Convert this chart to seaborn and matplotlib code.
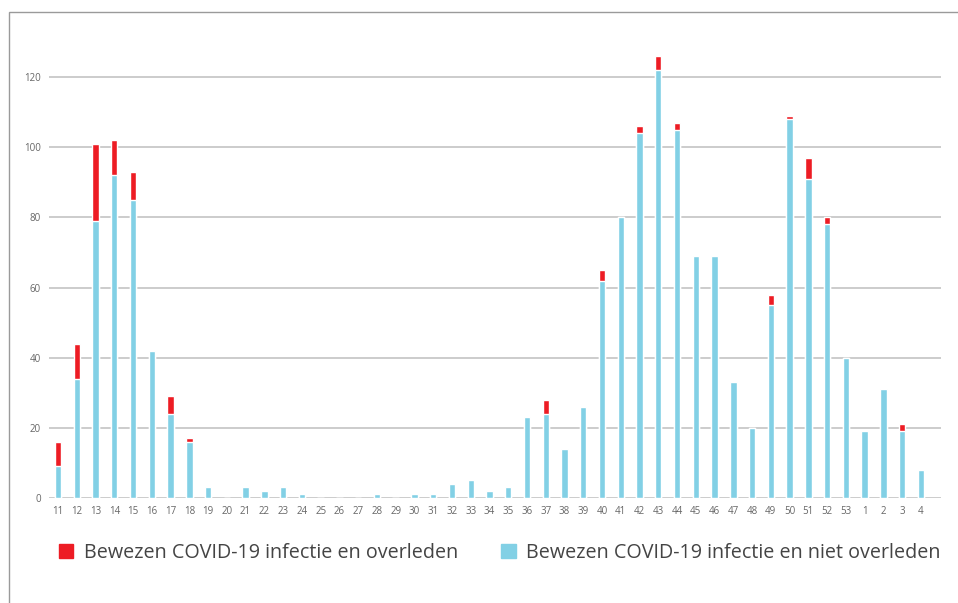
import matplotlib
matplotlib.use("Agg")
import matplotlib.pyplot as plt
import matplotlib.patches as mpatches
import seaborn as sns
import pandas as pd

# weeks 11-53 (2020) then 1-4 (2021)
weeks = [str(w) for w in range(11, 54)] + ["1", "2", "3", "4"]

# infected, not deceased
niet_overleden = [9, 34, 79, 92, 85, 42, 24, 16, 3, 0,
                  3, 2, 3, 1, 0, 0, 0, 1, 0, 1,
                  1, 4, 5, 2, 3, 23, 24, 14, 26, 62,
                  80, 104, 122, 105, 69, 69, 33, 20, 55, 108,
                  91, 78, 40, 19, 31, 19, 8]
# infected and deceased
overleden = [7, 10, 22, 10, 8, 0, 5, 1, 0, 0,
             0, 0, 0, 0, 0, 0, 0, 0, 0, 0,
             0, 0, 0, 0, 0, 0, 4, 0, 0, 3,
             0, 2, 4, 2, 0, 0, 0, 0, 3, 1,
             6, 2, 0, 0, 0, 2, 0]

red = "#ED1C24"
blue = "#82D0E5"

df = pd.DataFrame({"week": weeks, "niet": niet_overleden, "dood": overleden})
df["totaal"] = df["niet"] + df["dood"]

sns.set_style("white")
plt.rcParams["font.family"] = ["Open Sans", "DejaVu Sans"]

fig = plt.figure(figsize=(9.58, 6.03), dpi=100)
ax = fig.add_axes([49 / 958, 105 / 603, 892 / 958, 456 / 603])

sns.barplot(data=df, x="week", y="totaal", order=weeks, color=red,
            width=0.34, saturation=1, ax=ax)
sns.barplot(data=df, x="week", y="niet", order=weeks, color=blue,
            width=0.34, saturation=1, ax=ax)

ax.set_xlim(-0.48, 47.07)
ax.set_ylim(0, 130)
ax.set_yticks([0, 20, 40, 60, 80, 100, 120])
ax.yaxis.grid(True, color="#C4C4C4", linewidth=1.2)
ax.set_axisbelow(True)
for s in ax.spines.values():
    s.set_visible(False)
ax.tick_params(axis="both", length=0, labelsize=7, labelcolor="#666666")
ax.tick_params(axis="y", pad=6)
ax.tick_params(axis="x", pad=6)
ax.set_xlabel("")
ax.set_ylabel("")

# frame around the figure
fig.patches.append(mpatches.Rectangle((9 / 958, -0.1), 1.2, 1.1 - 12 / 603,
                                      transform=fig.transFigure, fill=False,
                                      edgecolor="#9A9A9A", linewidth=1.0))

handles = [mpatches.Patch(color=red, label="Bewezen COVID-19 infectie en overleden"),
           mpatches.Patch(color=blue, label="Bewezen COVID-19 infectie en niet overleden")]
fig.legend(handles=handles, loc="center left", bbox_to_anchor=(41 / 958, 1 - 553 / 603),
           ncol=2, frameon=False, fontsize=14.2, handlelength=0.72, handleheight=0.72,
           handletextpad=0.55, columnspacing=2.2, labelcolor="#444444")

fig.savefig("out.png", dpi=100)
